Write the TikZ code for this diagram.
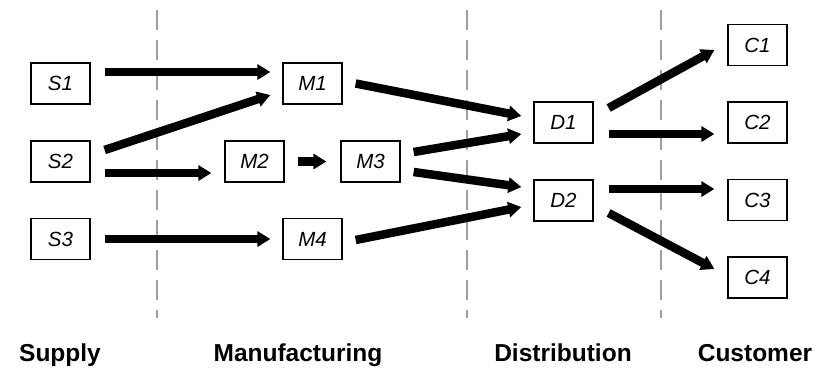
\documentclass[tikz,border=0pt]{standalone}
\usepackage{fontspec}
\setmainfont{Liberation Sans}
\usetikzlibrary{arrows.meta}
\begin{document}
\begin{tikzpicture}[x=1pt,y=-1pt,
  stage/.style={draw=black,line width=1.3pt,minimum width=59pt,minimum height=41pt,
    inner sep=0pt,font=\fontsize{20.5}{20.5}\selectfont\itshape},
  flow/.style={line width=8.5pt,-{Triangle[length=13pt,width=15pt]}},
  divider/.style={draw=gray!75,line width=1.4pt,dash pattern=on 20pt off 10pt},
  tier/.style={font=\fontsize{24.5}{24.5}\selectfont\bfseries,anchor=base}]
\useasboundingbox (0,0) rectangle (822,370);

% stage dividers
\coordinate (v1t) at (157,10);  \coordinate (v1b) at (157,318);
\coordinate (v2t) at (467,10);  \coordinate (v2b) at (467,318);
\coordinate (v3t) at (661,10);  \coordinate (v3b) at (661,318);
\draw[divider] (v1t) -- (v1b);
\draw[divider] (v2t) -- (v2b);
\draw[divider] (v3t) -- (v3b);

% suppliers
\node[stage] (S1) at (60.5,83.5) {S1};
\node[stage] (S2) at (60.5,161.5) {S2};
\node[stage] (S3) at (60.5,239) {S3};
% manufacturing
\node[stage] (M1) at (312.5,83.5) {M1};
\node[stage] (M2) at (254.5,161.5) {M2};
\node[stage] (M3) at (370.5,161.5) {M3};
\node[stage] (M4) at (312.5,239) {M4};
% distribution
\node[stage] (D1) at (563.5,122.5) {D1};
\node[stage] (D2) at (563.5,200.5) {D2};
% customers
\node[stage] (C1) at (757.5,45) {C1};
\node[stage] (C2) at (757.5,122.5) {C2};
\node[stage] (C3) at (757.5,200) {C3};
\node[stage] (C4) at (757.5,277.5) {C4};

% material flows
\draw[flow] ([shift={(14,-11.5)}]S1.east) -- ([shift={(-12,-11.5)}]M1.west);
\draw[flow] ([shift={(14,-11.5)}]S2.east) -- ([shift={(-12,11.5)}]M1.west);
\draw[flow] ([shift={(14,11.5)}]S2.east) -- ([shift={(-13,11.5)}]M2.west);
\draw[flow] ([shift={(14,0)}]S3.east) -- ([shift={(-12,0)}]M4.west);
\draw[flow] ([shift={(13,0)}]M2.east) -- ([shift={(-14,0)}]M3.west);
\draw[flow] ([shift={(13,0)}]M1.east) -- ([shift={(-12,-6.5)}]D1.west);
\draw[flow] ([shift={(13,-9.5)}]M3.east) -- ([shift={(-12,11.5)}]D1.west);
\draw[flow] ([shift={(13,10.5)}]M3.east) -- ([shift={(-12,-13.5)}]D2.west);
\draw[flow] ([shift={(13,1)}]M4.east) -- ([shift={(-12,6.5)}]D2.west);
\draw[flow] ([shift={(15,-14.5)}]D1.east) -- ([shift={(-13,5)}]C1.west);
\draw[flow] ([shift={(15,11.5)}]D1.east) -- ([shift={(-13,11.5)}]C2.west);
\draw[flow] ([shift={(15,-11.5)}]D2.east) -- ([shift={(-13,-11)}]C3.west);
\draw[flow] ([shift={(15,12.5)}]D2.east) -- ([shift={(-13,-8.5)}]C4.west);

% tier labels
\node[tier] (Lsup) at (60,361) {Supply};
\node[tier] (Lman) at (298,361) {Manufacturing};
\node[tier] (Ldis) at (563,361) {Distribution};
\node[tier] (Lcus) at (755,361) {Customer};
\end{tikzpicture}
\end{document}
